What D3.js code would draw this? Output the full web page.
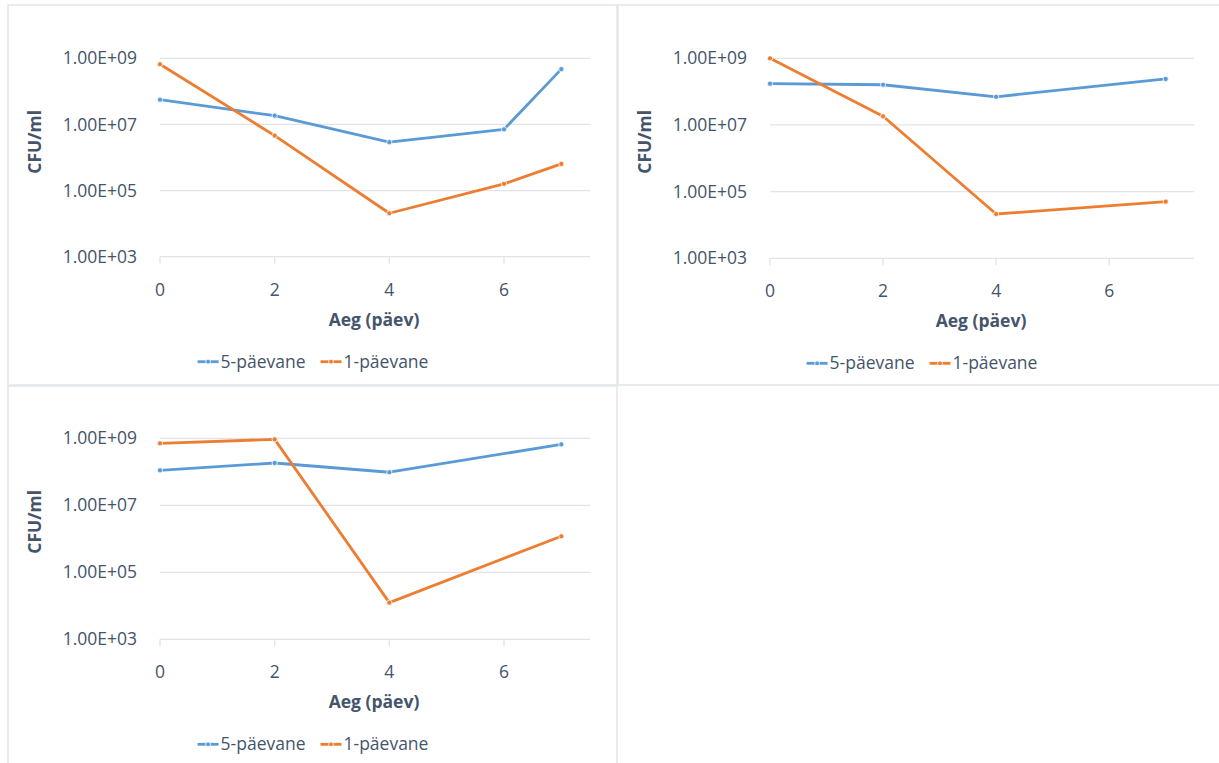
<!DOCTYPE html>
<html>
<head>
<meta charset="utf-8">
<script src="https://cdn.jsdelivr.net/npm/d3@7/dist/d3.min.js"></script>
<style>
  html, body { margin: 0; padding: 0; background: #ffffff; }
  svg { display: block; font-family: "Open Sans", "Noto Sans", sans-serif; }
</style>
</head>
<body>
<svg id="chart" width="1219" height="763"></svg>
<script>
// Bacterial counts (CFU/ml) over time, two culture ages per panel
const seriesNames = ["5-päevane", "1-päevane"];
const seriesColors = ["#5b9bd5", "#ed7d31"];

const daysA = [0, 2, 4, 6, 7];
const fiveDayA = [5.6e7, 1.84e7, 2.9e6, 7.1e6, 4.7e8];
const oneDayA = [6.6e8, 4.6e6, 2.06e4, 1.6e5, 6.4e5];

const daysB = [0, 2, 4, 7];
const fiveDayB = [1.73e8, 1.61e8, 7.0e7, 2.4e8];
const oneDayB = [1.0e9, 1.82e7, 2.13e4, 5.0e4];

const daysC = [0, 2, 4, 7];
const fiveDayC = [1.11e8, 1.83e8, 9.7e7, 6.6e8];
const oneDayC = [7.1e8, 9.3e8, 1.24e4, 1.19e6];

const yTickValues = [1e3, 1e5, 1e7, 1e9];
const yTickLabels = ["1.00E+03", "1.00E+05", "1.00E+07", "1.00E+09"];
const xTickValues = [0, 2, 4, 6];
const xTitle = "Aeg (päev)";
const yTitle = "CFU/ml";

const textColor = "#44546a";
const gridColor = "#e1e4e9";
const frameColor = "#e3e6eb";
const fontSize = 17.5;

const svg = d3.select("#chart");

// panel frames and plot areas
const panels = [
  { frame: [8, 5, 609, 380], plot: { left: 160, right: 590, top: 58.3, bottom: 256.7 },
    days: daysA, values: [fiveDayA, oneDayA], cx: 313 },
  { frame: [618, 5, 620, 380], plot: { left: 770, right: 1194, top: 58.3, bottom: 258.3 },
    days: daysB, values: [fiveDayB, oneDayB], cx: 922 },
  { frame: [8, 386, 609, 400], plot: { left: 160, right: 590, top: 438.3, bottom: 639.3 },
    days: daysC, values: [fiveDayC, oneDayC], cx: 313 }
];

panels.forEach(p => {
  const [fx, fy, fw, fh] = p.frame;
  svg.append("rect")
    .attr("x", fx).attr("y", fy).attr("width", fw).attr("height", fh)
    .attr("fill", "#ffffff").attr("stroke", frameColor).attr("stroke-width", 1.6);
});

panels.forEach(p => {
  const pl = p.plot;
  const g = svg.append("g");

  const x = d3.scaleLinear().domain([0, 7.5]).range([pl.left, pl.right]);
  const y = d3.scaleLog().domain([1e3, 1e9]).range([pl.bottom, pl.top]);

  // horizontal gridlines (the 1e3 line doubles as the x axis line)
  g.selectAll("line.grid").data(yTickValues).join("line")
    .attr("class", "grid")
    .attr("x1", pl.left).attr("x2", pl.right)
    .attr("y1", d => y(d)).attr("y2", d => y(d))
    .attr("stroke", gridColor).attr("stroke-width", 1.3);

  // x axis tick marks
  g.selectAll("line.xtick").data(xTickValues).join("line")
    .attr("class", "xtick")
    .attr("x1", d => x(d)).attr("x2", d => x(d))
    .attr("y1", pl.bottom).attr("y2", pl.bottom + 7)
    .attr("stroke", gridColor).attr("stroke-width", 1.3);

  // y tick labels
  g.selectAll("text.ylab").data(yTickValues).join("text")
    .attr("class", "ylab")
    .attr("x", pl.left - 23).attr("y", d => y(d))
    .attr("dy", "0.35em")
    .attr("text-anchor", "end")
    .attr("fill", textColor).attr("font-size", fontSize)
    .text((d, i) => yTickLabels[i]);

  // x tick labels
  g.selectAll("text.xlab").data(xTickValues).join("text")
    .attr("class", "xlab")
    .attr("x", d => x(d)).attr("y", pl.bottom + 33)
    .attr("dy", "0.35em")
    .attr("text-anchor", "middle")
    .attr("fill", textColor).attr("font-size", fontSize)
    .text(d => d);

  // axis titles
  g.append("text")
    .attr("x", (pl.left + pl.right) / 2 - 1).attr("y", pl.bottom + 63)
    .attr("dy", "0.35em").attr("text-anchor", "middle")
    .attr("fill", textColor).attr("font-size", fontSize).attr("font-weight", "bold")
    .text(xTitle);

  g.append("text")
    .attr("transform", `translate(${pl.left - 125},${pl.top + 83.5}) rotate(-90)`)
    .attr("dy", "0.35em").attr("text-anchor", "middle")
    .attr("fill", textColor).attr("font-size", fontSize).attr("font-weight", "bold")
    .text(yTitle);

  // series lines and markers
  const line = d3.line().x(d => x(d[0])).y(d => y(d[1]));
  p.values.forEach((vals, si) => {
    const pts = p.days.map((d, i) => [d, vals[i]]);
    g.append("path")
      .attr("d", line(pts))
      .attr("fill", "none")
      .attr("stroke", seriesColors[si])
      .attr("stroke-width", 2.8)
      .attr("stroke-linejoin", "round");
    g.selectAll(null).data(pts).join("circle")
      .attr("cx", d => x(d[0])).attr("cy", d => y(d[1]))
      .attr("r", 2.6)
      .attr("fill", seriesColors[si])
      .attr("stroke", "#ffffff").attr("stroke-width", 0.8);
  });

  // legend, centred under the panel
  const legY = pl.bottom + 105;
  const leg = g.append("g");
  let cursor = 0;
  seriesNames.forEach((name, si) => {
    const item = leg.append("g").attr("transform", `translate(${cursor},0)`);
    item.append("line")
      .attr("x1", 0).attr("x2", 21).attr("y1", legY).attr("y2", legY)
      .attr("stroke", seriesColors[si]).attr("stroke-width", 2.8);
    item.append("circle")
      .attr("cx", 10.5).attr("cy", legY).attr("r", 2.4)
      .attr("fill", seriesColors[si]).attr("stroke", "#ffffff").attr("stroke-width", 0.8);
    const t = item.append("text")
      .attr("x", 23).attr("y", legY).attr("dy", "0.35em")
      .attr("fill", textColor).attr("font-size", fontSize)
      .text(name);
    cursor += 23 + t.node().getComputedTextLength() + 15;
  });
  const total = cursor - 15;
  leg.attr("transform", `translate(${p.cx - total / 2},0)`);
});
</script>
</body>
</html>
